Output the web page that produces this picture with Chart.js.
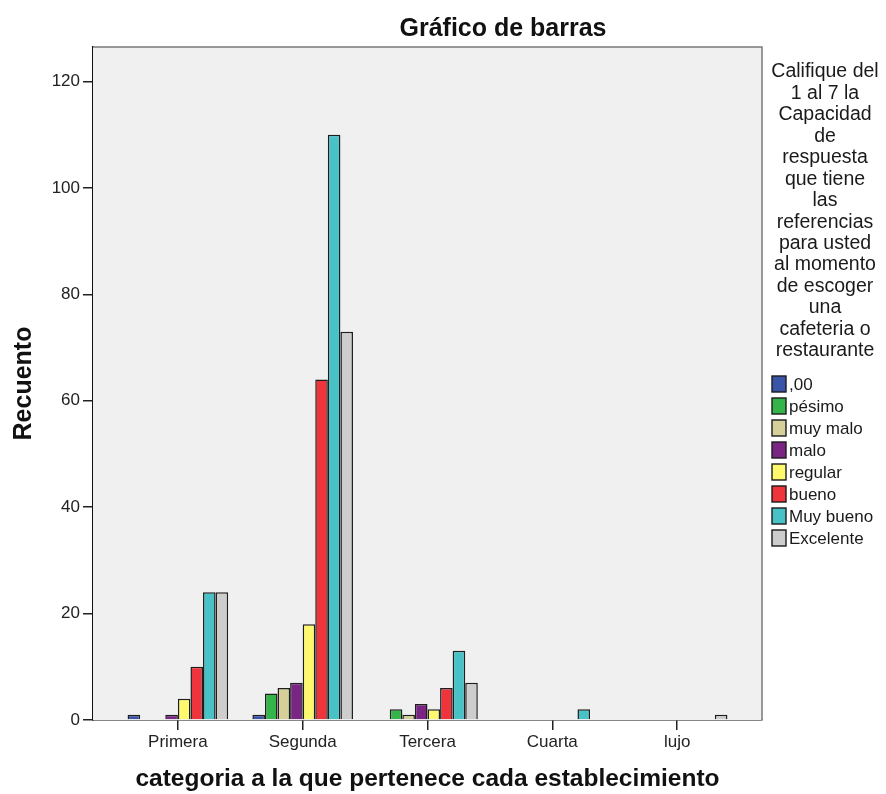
<!DOCTYPE html>
<html lang="es">
<head>
<meta charset="utf-8">
<title>Gráfico de barras</title>
<script src="https://cdn.jsdelivr.net/npm/chart.js@4/dist/chart.umd.min.js"></script>
<style>
    html, body { margin: 0; padding: 0; background: #fff; }
    #wrap { position: relative; width: 886px; height: 794px; }
</style>
</head>
<body>
<div id="wrap"><canvas id="grafico" width="886" height="794"></canvas></div>
<script>
// Recuento por categoría de establecimiento y calificación
const categorias = ["Primera", "Segunda", "Tercera", "Cuarta", "lujo"];
const calificaciones = [",00", "pésimo", "muy malo", "malo", "regular", "bueno", "Muy bueno", "Excelente"];
const colores = ["#3a55a8", "#35b44a", "#d6cf99", "#7a2583", "#fdf86d", "#f0343c", "#48c2c6", "#cdcdcd"];

// una fila por calificación, una columna por categoría (null = sin barra)
const cero      = [1,    1,    null, null, null];
const pesimo    = [null, 5,    2,    null, null];
const muyMalo   = [null, 6,    1,    null, null];
const malo      = [1,    7,    3,    null, null];
const regular   = [4,    18,   2,    null, null];
const bueno     = [10,   64,   6,    null, null];
const muyBueno  = [24,   110,  13,   2,    null];
const excelente = [24,   73,   7,    null, 1];
const series = [cero, pesimo, muyMalo, malo, regular, bueno, muyBueno, excelente];

const yTicks = [0, 20, 40, 60, 80, 100, 120];

const tituloLeyenda = ["Califique del", "1 al 7 la", "Capacidad", "de", "respuesta",
    "que tiene", "las", "referencias", "para usted", "al momento", "de escoger",
    "una", "cafeteria o", "restaurante"];

const FUENTE = "'Liberation Sans', Arial, sans-serif";

// fondo gris del área, marco superior / derecho, título y leyenda
const marco = {
    id: "marco",
    beforeDatasetsDraw(chart) {
        const { ctx, chartArea: a } = chart;
        ctx.save();
        ctx.fillStyle = "#f0f0f0";
        ctx.fillRect(a.left, a.top, a.right - a.left, a.bottom - a.top);
        ctx.restore();
    },
    afterDraw(chart) {
        const { ctx, chartArea: a } = chart;
        ctx.save();
        ctx.strokeStyle = "#7a7a7a";
        ctx.lineWidth = 1.5;
        ctx.beginPath();
        ctx.moveTo(a.left, a.top);
        ctx.lineTo(a.right, a.top);
        ctx.lineTo(a.right, a.bottom);
        ctx.stroke();

        // título
        ctx.fillStyle = "#111";
        ctx.font = "bold 25px " + FUENTE;
        ctx.textAlign = "center";
        ctx.textBaseline = "middle";
        ctx.fillText("Gráfico de barras", 503, 29);

        // leyenda a la derecha
        const cx = 825;
        ctx.font = "19.5px " + FUENTE;
        ctx.fillStyle = "#1a1a1a";
        tituloLeyenda.forEach((t, i) => ctx.fillText(t, cx, 72 + i * 21.45));

        ctx.textAlign = "left";
        ctx.font = "17px " + FUENTE;
        chart.data.datasets.forEach((ds, i) => {
            const y = 384 + i * 22;
            ctx.fillStyle = ds.backgroundColor;
            ctx.fillRect(772, y - 8, 14, 16);
            ctx.strokeStyle = "#1a1a1a";
            ctx.lineWidth = 1.4;
            ctx.strokeRect(772, y - 8, 14, 16);
            ctx.fillStyle = "#1a1a1a";
            ctx.fillText(ds.label, 789, y + 1);
        });
        ctx.restore();
    }
};

const datasets = calificaciones.map((nombre, i) => ({
    label: nombre,
    data: series[i].map((v, j) => ({ x: j, y: v })),
    backgroundColor: colores[i],
    borderColor: "#1e1e1e",
    borderWidth: 1.5,
    borderSkipped: "bottom",
    categoryPercentage: 0.806,
    barPercentage: 1,
}));

new Chart(document.getElementById("grafico"), {
    type: "bar",
    data: { datasets },
    plugins: [marco],
    options: {
        responsive: false,
        animation: false,
        devicePixelRatio: 1,
        layout: { padding: { top: 47, right: 124, bottom: 0, left: 0 } },
        plugins: { legend: { display: false }, tooltip: { enabled: false } },
        scales: {
            x: {
                type: "linear",
                offset: false,
                min: -0.68,
                max: 4.68,
                afterBuildTicks: (s) => { s.ticks = categorias.map((_, i) => ({ value: i })); },
                afterFit: (s) => { s.height = 74; },
                ticks: {
                    autoSkip: false,
                    maxRotation: 0,
                    padding: 2,
                    color: "#222",
                    font: { family: FUENTE, size: 17 },
                    callback: (v) => categorias[v] ?? "",
                },
                grid: { display: true, offset: false, drawOnChartArea: false, tickLength: 10, color: "#222", lineWidth: 1.5 },
                border: { display: true, color: "#111", width: 1.5 },
                title: {
                    display: true,
                    text: "categoria a la que pertenece cada establecimiento",
                    color: "#111",
                    font: { family: FUENTE, size: 24.5, weight: "bold" },
                    padding: { top: 0, bottom: 0 },
                },
            },
            y: {
                min: 0,
                max: 126.5,
                afterBuildTicks: (s) => { s.ticks = yTicks.map((v) => ({ value: v })); },
                afterFit: (s) => { s.width = 93; },
                ticks: {
                    padding: 3,
                    color: "#222",
                    font: { family: FUENTE, size: 17 },
                },
                grid: { display: true, drawOnChartArea: false, tickLength: 10, color: "#222", lineWidth: 1.5 },
                border: { display: true, color: "#111", width: 1.5 },
                title: {
                    display: true,
                    text: "Recuento",
                    color: "#111",
                    font: { family: FUENTE, size: 25, weight: "bold" },
                    padding: { top: 9, bottom: 0 },
                },
            },
        },
    },
});
</script>
</body>
</html>
